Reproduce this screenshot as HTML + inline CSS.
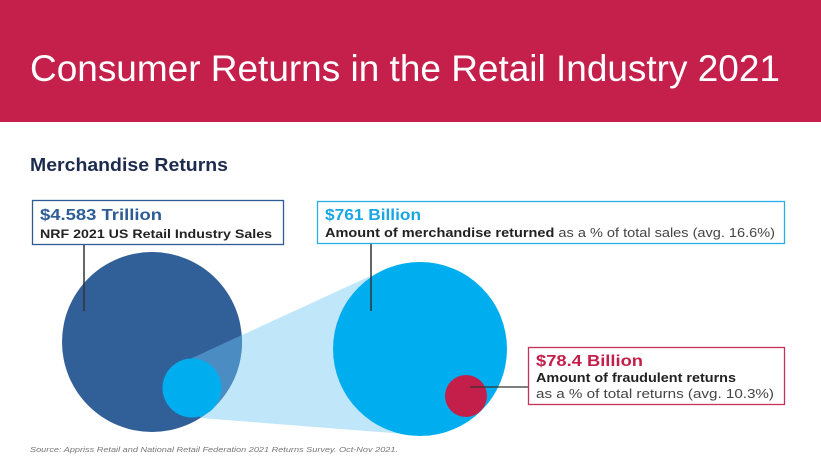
<!DOCTYPE html>
<html><head><style>
body{margin:0;width:821px;height:456px;overflow:hidden;background:#fff;font-family:"Liberation Sans",sans-serif;}
</style></head><body>
<svg width="821" height="456" xmlns="http://www.w3.org/2000/svg" style="position:absolute;left:0;top:0">
<defs><clipPath id="c"><circle cx="152" cy="342" r="90"/></clipPath></defs>
<rect x="0" y="0" width="821" height="122" fill="#c51f4b"/>
<text x="30" y="81" fill="#fff" font-size="37" textLength="750" lengthAdjust="spacingAndGlyphs">Consumer Returns in the Retail Industry 2021</text>
<text x="30" y="171" fill="#1d2b4f" font-size="18" font-weight="bold" textLength="198" lengthAdjust="spacingAndGlyphs">Merchandise Returns</text>
<polygon points="190,359 392,266 430,436 200,418" fill="#c0e7f9"/>
<circle cx="152" cy="342" r="90" fill="#315f98"/>
<polygon points="190,359 392,266 430,436 200,418" fill="#4b8dc2" clip-path="url(#c)"/>
<circle cx="192" cy="388" r="29.5" fill="#00aeef"/>
<circle cx="420" cy="349" r="87" fill="#00aeef"/>
<circle cx="466" cy="396" r="21" fill="#c41e4a"/>
<line x1="84" y1="245" x2="84" y2="311" stroke="#333" stroke-width="1.5"/>
<line x1="371" y1="243" x2="371" y2="311" stroke="#333" stroke-width="1.5"/>
<line x1="470" y1="387" x2="528" y2="387" stroke="#333" stroke-width="1.2"/>
<rect x="32.5" y="200.5" width="251" height="44" fill="#fff" stroke="#2e5c94" stroke-width="1.3"/>
<text x="40" y="220" fill="#2e5c94" font-size="16" font-weight="bold" textLength="122" lengthAdjust="spacingAndGlyphs">$4.583 Trillion</text>
<text x="40" y="238" fill="#222" font-size="12" font-weight="bold" textLength="232" lengthAdjust="spacingAndGlyphs">NRF 2021 US Retail Industry Sales</text>
<rect x="317.5" y="201.5" width="467" height="42" fill="#fff" stroke="#29aee6" stroke-width="1.3"/>
<text x="325" y="220" fill="#1aa6e2" font-size="16" font-weight="bold" textLength="96" lengthAdjust="spacingAndGlyphs">$761 Billion</text>
<text x="325" y="237" fill="#222" font-size="12.5" textLength="450" lengthAdjust="spacingAndGlyphs"><tspan font-weight="bold">Amount of merchandise returned</tspan><tspan fill="#444"> as a % of total sales (avg. 16.6%)</tspan></text>
<rect x="528.5" y="347.5" width="256" height="57" fill="#fff" stroke="#c8325a" stroke-width="1.3"/>
<text x="536" y="366" fill="#c41e4a" font-size="16" font-weight="bold" textLength="107" lengthAdjust="spacingAndGlyphs">$78.4 Billion</text>
<text x="536" y="382" fill="#222" font-size="12.5" font-weight="bold" textLength="200" lengthAdjust="spacingAndGlyphs">Amount of fraudulent returns</text>
<text x="536" y="398" fill="#444" font-size="12.5" textLength="238" lengthAdjust="spacingAndGlyphs">as a % of total returns (avg. 10.3%)</text>
<text x="30" y="452" fill="#777" font-size="7.5" font-style="italic" textLength="368" lengthAdjust="spacingAndGlyphs">Source: Appriss Retail and National Retail Federation 2021 Returns Survey. Oct-Nov 2021.</text>
</svg>
</body></html>
